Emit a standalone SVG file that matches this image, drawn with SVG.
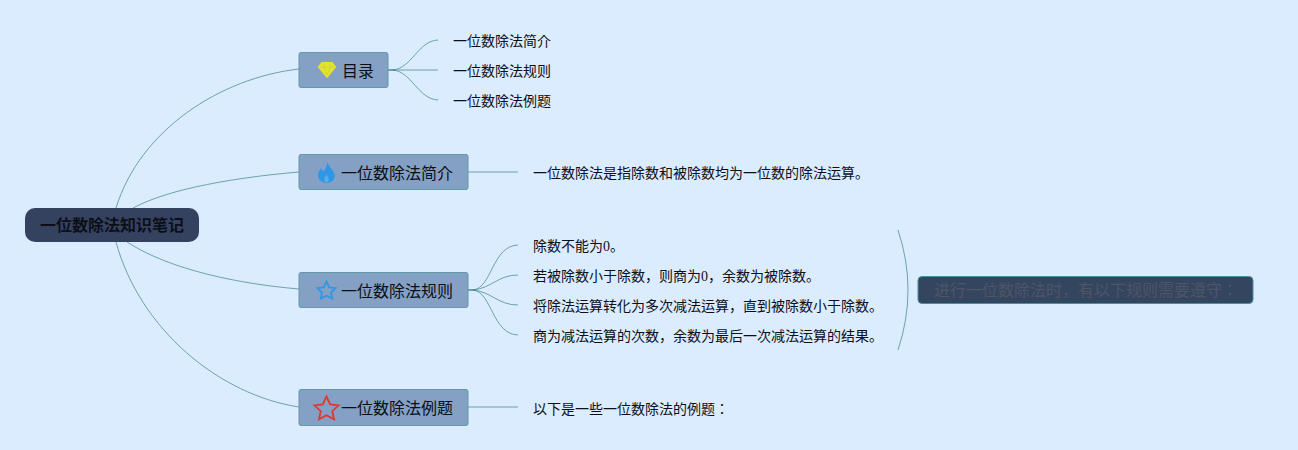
<svg xmlns="http://www.w3.org/2000/svg" width="1298" height="450" viewBox="0 0 1298 450">
<style>
text{font-family:"Liberation Serif","Noto Sans CJK JP",serif;fill:#0c0f18}
.leaf{font-size:14px}
.topic{font-size:16px}
.box{fill:#84a0c4;stroke:#5f9aa6;stroke-width:1}
.c{fill:none;stroke:#4f8f97;stroke-width:.8}
.t{fill:none;stroke:#4f8f97;stroke-width:1.6}
</style>
<rect width="1298" height="450" fill="#dcecff"/>
<g id="connectors">
<path class="c" d="M116 208C140 130 220 78 299 69"/>
<path class="c" d="M133 208C170 188 240 177 299 172"/>
<path class="c" d="M127 242C170 270 240 284 299 289"/>
<path class="c" d="M116 242C140 330 220 395 299 407"/>
<path class="t" d="M388 70H396"/>
<path class="c" d="M393 70C412 68 418 41 438 40"/>
<path class="c" d="M393 70H438"/>
<path class="c" d="M393 70C412 72 418 99 438 100"/>
<path class="c" d="M468 172H518"/>
<path class="t" d="M468 290H476"/>
<path class="c" d="M473 290C492 288 492 246 518 245"/>
<path class="c" d="M473 290C492 288 498 275 518 275"/>
<path class="c" d="M473 290C492 292 498 305 518 305"/>
<path class="c" d="M473 290C492 292 492 334 518 335"/>
<path class="c" d="M468 407H518"/>
<path class="c" d="M898 230Q918 290 898 350"/>
</g>
<g id="root"><rect x="25" y="208" width="174" height="34" rx="10" fill="#344260"/><text x="112" y="231" font-size="16" font-weight="700" text-anchor="middle">一位数除法知识笔记</text></g>
<g id="n-toc"><rect class="box" x="299" y="52.500" width="89" height="35" rx="2"/>
<path d="M321.500 62H332.500L336.300 67L327 78.300L317.700 67Z" fill="#e4e42c"/><path d="M320 67H334M324.500 63.500L323.500 67L327 75L330.500 67L329.500 63.500" fill="none" stroke="#c9cf45" stroke-width=".8"/>
<text class="topic" x="342" y="76.500">目录</text></g>
<g id="n-intro"><rect class="box" x="299" y="154.500" width="169" height="35" rx="2"/>
<path d="M327.500 162C328.500 167 334.700 170.500 334.700 176C334.700 180.500 331 182.800 326.500 182.800C321.500 182.800 318 179.500 318 175C318 172 319.500 170 321 168C321.500 170 322.500 171 323.700 171C325.700 169 327 165 327.500 162Z" fill="#2f97e6"/><path d="M326.500 182.500C323.800 181.500 323.500 178 326.500 175C329.500 178 329.300 181.500 326.500 182.500Z" fill="#5aaee8"/>
<text class="topic" x="341" y="178.500">一位数除法简介</text></g>
<g id="n-rules"><rect class="box" x="299" y="272.500" width="169" height="35" rx="2"/>
<path d="M326.500 281.500L329.300 287.300L335.500 288.100L331 292.500L332.200 298.700L326.500 295.700L320.800 298.700L322 292.500L317.500 288.100L323.700 287.300Z" fill="none" stroke="#2f97e6" stroke-width="1.800"/>
<text class="topic" x="341" y="296.500">一位数除法规则</text></g>
<g id="n-examples"><rect class="box" x="299" y="389.500" width="169" height="36" rx="2"/>
<path d="M326.500 396.500L330.200 404.300L338.500 405.400L332.300 411.200L334 419.300L326.500 415.300L319 419.300L320.700 411.200L314.500 405.400L322.800 404.300Z" fill="none" stroke="#e0382f" stroke-width="1.800"/>
<text class="topic" x="341" y="413.500">一位数除法例题</text></g>
<g id="l1"><text class="leaf" x="453" y="46">一位数除法简介</text></g>
<g id="l2"><text class="leaf" x="453" y="76">一位数除法规则</text></g>
<g id="l3"><text class="leaf" x="453" y="106">一位数除法例题</text></g>
<g id="l4"><text class="leaf" x="533" y="178">一位数除法是指除数和被除数均为一位数的除法运算。</text></g>
<g id="l5"><text class="leaf" x="533" y="251">除数不能为0。</text></g>
<g id="l6"><text class="leaf" x="533" y="281">若被除数小于除数，则商为0，余数为被除数。</text></g>
<g id="l7"><text class="leaf" x="533" y="311">将除法运算转化为多次减法运算，直到被除数小于除数。</text></g>
<g id="l8"><text class="leaf" x="533" y="341">商为减法运算的次数，余数为最后一次减法运算的结果。</text></g>
<g id="l9"><text class="leaf" x="533" y="414">以下是一些一位数除法的例题：</text></g>
<g id="summary"><rect x="918" y="276.500" width="335" height="27" rx="4" fill="#344560" stroke="#4f8f97"/><text x="934" y="296" font-size="16" style="fill:#4d5566">进行一位数除法时，有以下规则需要遵守：</text></g>
</svg>
